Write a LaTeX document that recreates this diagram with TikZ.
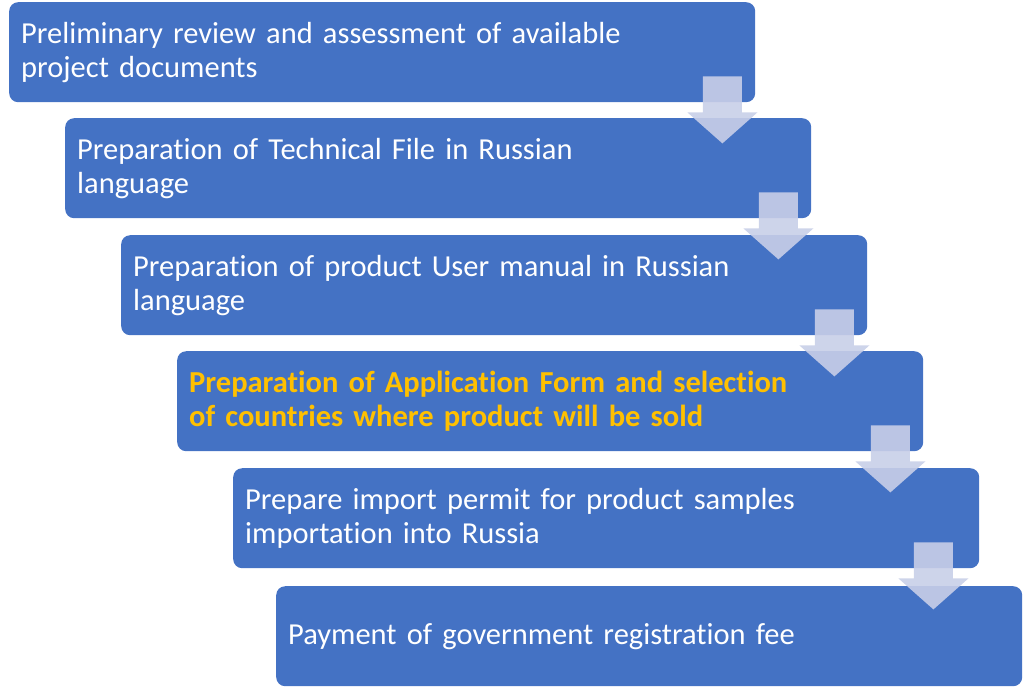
\documentclass[tikz,border=0pt]{standalone}
\usepackage{fontspec}
\setmainfont{Carlito}[Ligatures = NoCommon]
\usepackage{tikz}
\usetikzlibrary{calc}
\definecolor{stepblue}{RGB}{68,114,196}
\definecolor{arrowfill}{RGB}{200,207,232}
\definecolor{hiyellow}{RGB}{255,192,0}

\begin{document}
\begin{tikzpicture}[x = 1pt, y = -1pt,
  stage/.style = {fill = stepblue, rounded corners = 9pt, anchor = north west,
    minimum width = 746pt, minimum height = 100pt, text width = 722pt,
    inner xsep = 12pt, align = left, text = white, font = \fontsize{30.5}{34}\selectfont},
  downarrow/.style = {fill = arrowfill, fill opacity = .9}]
  \useasboundingbox (0, 0) rectangle (1024, 689);
  \node[stage] (s1) at (9, 2) {Preliminary review and assessment of available\\project documents};
  \node[stage] (s2) at (65, 118) {Preparation of Technical File in Russian\\language};
  \node[stage] (s3) at (121, 235) {Preparation of product User manual in Russian\\language};
  \node[stage, text = hiyellow, font = \fontsize{30.5}{34}\selectfont\bfseries] (s4) at (177, 351) {Preparation of Application Form and selection\\of countries where product will be sold};
  \node[stage] (s5) at (233, 468) {Prepare import permit for product samples\\importation into Russia};
  \node[stage] (s6) at (276, 586) {Payment of government registration fee};
  % arrows sit under the right end of each box, pointing into the next one
  \foreach \a/\b in {s1/s2, s2/s3, s3/s4, s4/s5, s5/s6} {
    \coordinate (c) at ($(\b.north east) + (-89, 0)$);
    \coordinate (m) at (c |- \a.south);
    \fill [downarrow] (m) ++(-19.5, -26) -- ++(0, 36) -- ++(-15.5, 0) -- ++(35, 31)
      -- ++(35, -31) -- ++(-15.5, 0) -- ++(0, -36) -- cycle;
  }
\end{tikzpicture}
\end{document}
